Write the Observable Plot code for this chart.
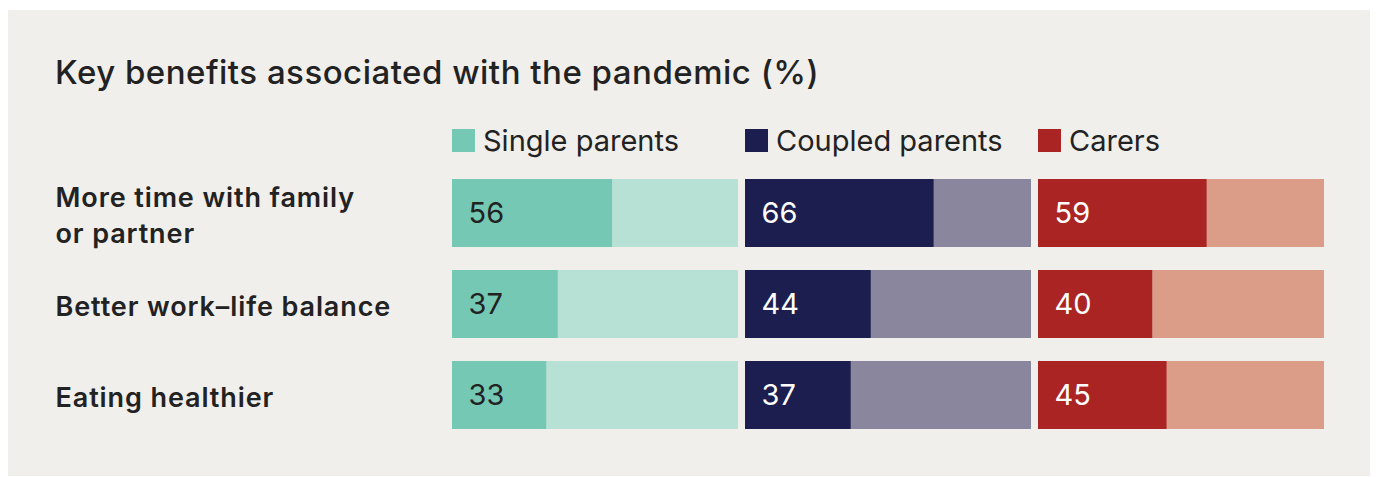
<!DOCTYPE html>
<html><head><meta charset="utf-8">
<script src="https://cdn.jsdelivr.net/npm/d3@7"></script>
<script src="https://cdn.jsdelivr.net/npm/@observablehq/plot@0.6"></script>
<style>
body{margin:0;background:#fff;font-family:Inter,Roboto,sans-serif;}
#panel{position:absolute;left:8px;top:10px;width:1362px;height:466px;background:#f0efeb;overflow:hidden;}
#title{position:absolute;left:47px;top:46px;font-size:33px;line-height:33px;font-weight:500;letter-spacing:0.5px;color:#222;white-space:nowrap;}
#legend{position:absolute;left:444px;top:119px;display:flex;}
.item{width:293px;display:flex;align-items:center;font-size:29px;line-height:23px;color:#222;}
.sw{width:23px;height:23px;margin-right:8px;flex:none;}
#chart{position:absolute;left:0;top:150px;}
#chart g[aria-label="y-axis tick label"] text{letter-spacing:0.9px;}
</style>
</head><body>
<div id="panel">
  <div id="title">Key benefits associated with the pandemic (%)</div>
  <div id="legend"></div>
  <div id="chart"></div>
</div>
<script>
// categories
const benefits = ["More time with family or partner", "Better work–life balance", "Eating healthier"];
const benefitLabels = ["More time with family\nor partner", "Better work–life balance", "Eating healthier"];
const groups = ["Single parents", "Coupled parents", "Carers"];
// series values (%)
const singleParents = [56, 37, 33];
const coupledParents = [66, 44, 37];
const carers = [59, 40, 45];

const darkColors = ["#74c8b4", "#1b1e4e", "#ab2424"];
const lightColors = ["#b8e1d6", "#8a869e", "#db9d88"];
const textColors = ["#222222", "#ffffff", "#ffffff"];

const series = [singleParents, coupledParents, carers];
const rows = [];
groups.forEach((g, gi) => benefits.forEach((b, bi) => rows.push({group: g, gi, benefit: b, value: series[gi][bi]})));
const labelOf = new Map(benefits.map((b, i) => [b, benefitLabels[i]]));

// legend
const legend = document.getElementById("legend");
groups.forEach((g, i) => {
  const it = document.createElement("div"); it.className = "item";
  const sw = document.createElement("span"); sw.className = "sw"; sw.style.background = darkColors[i];
  const tx = document.createElement("span"); tx.textContent = g;
  it.append(sw, tx); legend.append(it);
});

const chart = Plot.plot({
  width: 1362,
  height: 316,
  marginLeft: 444,
  marginRight: 46,
  marginTop: 18,
  marginBottom: 46,
  style: {background: "transparent", fontFamily: "Inter, Roboto, sans-serif", color: "#222", overflow: "visible"},
  fx: {domain: groups, axis: null, paddingInner: 7/293, paddingOuter: 0},
  x: {domain: [0, 100], axis: null},
  y: {domain: benefits, paddingInner: 0.25, paddingOuter: 0},
  color: {type: "identity"},
  marks: [
    Plot.barX(rows, {fx: "group", y: "benefit", x1: "value", x2: () => 100, fill: d => lightColors[d.gi]}),
    Plot.barX(rows, {fx: "group", y: "benefit", x1: () => 0, x2: "value", fill: d => darkColors[d.gi]}),
    Plot.text(rows, {fx: "group", y: "benefit", x: () => 0, text: d => String(d.value), textAnchor: "start", dx: 16, fontSize: 29, fill: d => textColors[d.gi]}),
    Plot.axisY({anchor: "left", tickSize: 0, tickPadding: 0, textAnchor: "start", dx: -397, fontSize: 27, fontWeight: 600, lineHeight: 1.33, label: null, tickFormat: d => labelOf.get(d)})
  ]
});
document.getElementById("chart").append(chart);
</script>
</body></html>
